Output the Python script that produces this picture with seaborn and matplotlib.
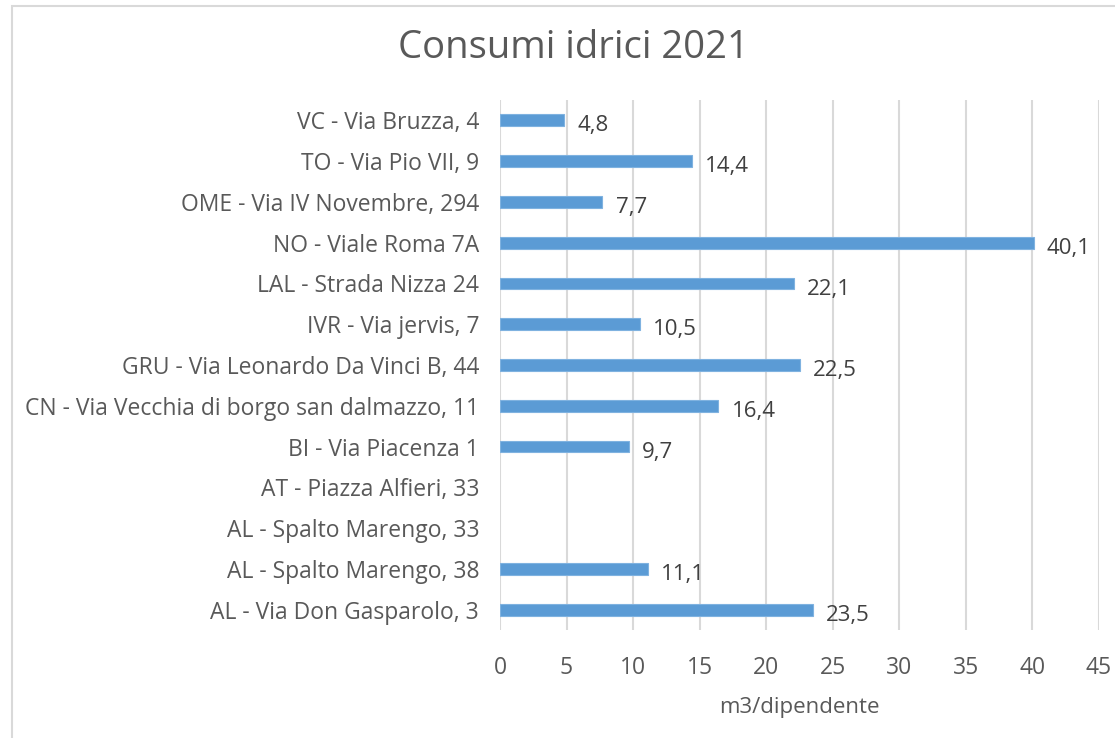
import numpy as np
import pandas as pd
import matplotlib
matplotlib.use("Agg")
import matplotlib.pyplot as plt
import matplotlib.patches as mpatches
import seaborn as sns

categories = [
    "VC - Via Bruzza, 4",
    "TO - Via Pio VII, 9",
    "OME - Via IV Novembre, 294",
    "NO - Viale Roma 7A",
    "LAL - Strada Nizza 24",
    "IVR - Via jervis, 7",
    "GRU - Via Leonardo Da Vinci B, 44",
    "CN - Via Vecchia di borgo san dalmazzo, 11",
    "BI - Via Piacenza 1",
    "AT - Piazza Alfieri, 33",
    "AL - Spalto Marengo, 33",
    "AL - Spalto Marengo, 38",
    "AL - Via Don Gasparolo, 3",
]
values = [4.8, 14.4, 7.7, 40.1, 22.1, 10.5, 22.5, 16.4, 9.7, np.nan, np.nan, 11.1, 23.5]
x_ticks = [0, 5, 10, 15, 20, 25, 30, 35, 40, 45]
title = "Consumi idrici 2021"
x_label = "m3/dipendente"

sns.set_style("white")
plt.rcParams['font.family'] = ['Open Sans', 'DejaVu Sans']

df = pd.DataFrame({"cat": categories, "val": values})

fig = plt.figure(figsize=(11.15, 7.38), dpi=100)
ax = fig.add_axes([500/1115, 1-630/738, 599/1115, 530/738])

sns.barplot(data=df, y="cat", x="val", orient="h", order=categories,
            color="#5B9BD5", saturation=1, width=0.29, ax=ax,
            edgecolor="#7FB2E0", linewidth=0.8)

ax.set_xlim(0, 45)
ax.set_xticks(x_ticks)
ax.set_xticklabels([str(t) for t in x_ticks])
ax.xaxis.grid(True, color="#D9D9D9", linewidth=1.5)
ax.yaxis.grid(False)
ax.set_axisbelow(True)
for s in ax.spines.values():
    s.set_visible(False)
ax.tick_params(axis="y", length=0, pad=15, labelsize=16.5, labelcolor="#595959")
ax.tick_params(axis="x", length=0, pad=19, labelsize=16.5, labelcolor="#595959")
ax.set_ylabel("")
ax.set_xlabel(x_label, fontsize=16, color="#595959", labelpad=12)

for i, v in enumerate(values):
    if not np.isnan(v):
        ax.annotate(f"{v:.1f}".replace(".", ","), (v, i), xytext=(9.5, -4),
                    textcoords="offset points", ha="left", va="center",
                    fontsize=16, color="#404040")

fig.text(573/1115, 1-48/738, title, ha="center", va="center",
         fontsize=27.5, color="#595959")

fig.patches.append(mpatches.Rectangle((12/1115, -0.1), 1.2, 1 - 6/738 + 0.1,
                                      transform=fig.transFigure, fill=False,
                                      edgecolor="#D9D9D9", linewidth=1.5))

fig.savefig("out.png", dpi=100)
